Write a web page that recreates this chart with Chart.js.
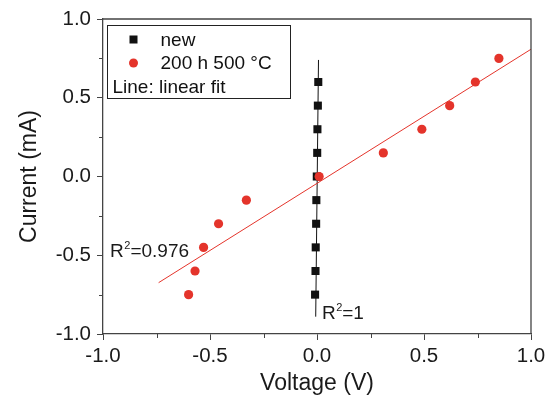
<!DOCTYPE html>
<html lang="en">
<head>
<meta charset="UTF-8">
<title>I-V curves</title>
<script src="https://cdn.jsdelivr.net/npm/chart.js"></script>
<style>
  html, body { margin: 0; padding: 0; background: #fff; }
  #wrap { width: 552px; height: 403px; }
</style>
</head>
<body>
<div id="wrap"><canvas id="ivChart"></canvas></div>
<script>
// sample "new": voltage (V) and current (mA)
const newVoltage = [-0.009, -0.007, -0.006, -0.004, -0.003, -0.001, 0.001, 0.002, 0.004, 0.006];
const newCurrent = [-0.75, -0.60, -0.45, -0.30, -0.15, 0.00, 0.15, 0.30, 0.45, 0.60];
// sample after 200 h at 500 °C
const agedVoltage = [-0.60, -0.57, -0.53, -0.46, -0.33, 0.01, 0.31, 0.49, 0.62, 0.74, 0.85];
const agedCurrent = [-0.75, -0.60, -0.45, -0.30, -0.15, 0.00, 0.15, 0.30, 0.45, 0.60, 0.75];
// linear fit end points
const newFitVoltage = [-0.006, 0.007];
const newFitCurrent = [-0.89, 0.74];
const agedFitVoltage = [-0.74, 1.0];
const agedFitCurrent = [-0.674, 0.808];
// axes
const xTicks = [-1.0, -0.5, 0.0, 0.5, 1.0];
const yTicks = [-1.0, -0.5, 0.0, 0.5, 1.0];
const xMinor = [-0.75, -0.25, 0.25, 0.75];
const yMinor = [-0.75, -0.25, 0.25, 0.75];
// fit quality labels
const fitLabels = [
    { v: -0.967, i: -0.511, r2: '0.976' },
    { v: 0.023, i: -0.905, r2: '1' }
];

const FONT = "'Liberation Sans', Arial, sans-serif";
const AXIS = '#444';
const RED = '#e4342b';
const BLACK = '#111';

const pts = (xs, ys) => xs.map((x, k) => ({ x: x, y: ys[k] }));

// draws R^2 text with a raised 2
function drawR2(ctx, x, y, value) {
    ctx.font = '19px ' + FONT;
    ctx.textBaseline = 'alphabetic';
    ctx.textAlign = 'left';
    ctx.fillText('R', x, y);
    let w = ctx.measureText('R').width;
    ctx.font = '11px ' + FONT;
    ctx.fillText('2', x + w + 0.5, y - 8);
    w += ctx.measureText('2').width + 0.5;
    ctx.font = '19px ' + FONT;
    ctx.fillText('=' + value, x + w, y);
}

const decorations = {
    id: 'decorations',
    afterDraw(chart) {
        const ctx = chart.ctx;
        const a = chart.chartArea;
        const xs = chart.scales.x, ys = chart.scales.y;
        ctx.save();
        // top and right frame
        ctx.strokeStyle = AXIS;
        ctx.lineWidth = 1.3;
        ctx.beginPath();
        ctx.moveTo(a.left, a.top);
        ctx.lineTo(a.right, a.top);
        ctx.lineTo(a.right, a.bottom);
        ctx.stroke();
        // minor ticks
        ctx.lineWidth = 1;
        ctx.beginPath();
        xMinor.forEach(v => {
            const px = Math.round(xs.getPixelForValue(v)) + 0.5;
            ctx.moveTo(px, a.bottom);
            ctx.lineTo(px, a.bottom + 4);
        });
        yMinor.forEach(v => {
            const py = Math.round(ys.getPixelForValue(v)) + 0.5;
            ctx.moveTo(a.left, py);
            ctx.lineTo(a.left - 4, py);
        });
        ctx.stroke();

        // R^2 labels
        ctx.fillStyle = '#1a1a1a';
        fitLabels.forEach(f => {
            drawR2(ctx, xs.getPixelForValue(f.v), ys.getPixelForValue(f.i), f.r2);
        });

        // legend box
        const lx = a.left + 4.5, ly = a.top + 6.5;
        ctx.strokeStyle = '#222';
        ctx.lineWidth = 1;
        ctx.strokeRect(lx, ly, 183, 73);
        const d0 = chart.data.datasets[0], d1 = chart.data.datasets[1];
        ctx.fillStyle = d0.backgroundColor;
        ctx.fillRect(lx + 22, ly + 10, 8, 8);
        ctx.fillStyle = d1.backgroundColor;
        ctx.beginPath();
        ctx.arc(lx + 26, ly + 37.5, 4.5, 0, Math.PI * 2);
        ctx.fill();
        ctx.fillStyle = '#111';
        ctx.font = '19px ' + FONT;
        ctx.textAlign = 'left';
        ctx.textBaseline = 'alphabetic';
        ctx.fillText(d0.label, lx + 53, ly + 20.5);
        ctx.fillText(d1.label, lx + 53, ly + 43.5);
        ctx.fillText('Line: linear fit', lx + 5, ly + 67);
        ctx.restore();
    }
};

const axisCommon = {
    type: 'linear',
    min: -1,
    max: 1,
    border: { display: true, color: AXIS, width: 1.3 },
    grid: { drawOnChartArea: false, drawTicks: true, tickLength: 6, color: AXIS, tickColor: AXIS, tickWidth: 1 },
};

new Chart(document.getElementById('ivChart'), {
    type: 'scatter',
    data: {
        datasets: [
            {
                label: 'new',
                data: pts(newVoltage, newCurrent),
                backgroundColor: BLACK,
                borderColor: BLACK,
                pointStyle: 'rect',
                pointRadius: 5.7,
                borderWidth: 0,
                order: 2
            },
            {
                label: '200 h 500 °C',
                data: pts(agedVoltage, agedCurrent),
                backgroundColor: RED,
                borderColor: RED,
                pointStyle: 'circle',
                pointRadius: 4.6,
                borderWidth: 0,
                order: 1
            },
            {
                label: 'fit new',
                data: pts(newFitVoltage, newFitCurrent),
                showLine: true,
                borderColor: BLACK,
                borderWidth: 1,
                pointRadius: 0,
                order: 4
            },
            {
                label: 'fit 200 h',
                data: pts(agedFitVoltage, agedFitCurrent),
                showLine: true,
                borderColor: RED,
                borderWidth: 1,
                pointRadius: 0,
                order: 3
            }
        ]
    },
    options: {
        responsive: true,
        maintainAspectRatio: false,
        animation: false,
        events: [],
        layout: { padding: { top: 19, right: 21, left: 0, bottom: 0 } },
        plugins: { legend: { display: false }, tooltip: { enabled: false } },
        scales: {
            x: Object.assign({}, axisCommon, {
                position: 'bottom',
                afterBuildTicks: s => { s.ticks = xTicks.map(v => ({ value: v })); },
                afterFit: s => { s.height = 69; },
                ticks: {
                    color: '#1a1a1a', padding: 4,
                    font: { family: FONT, size: 20.5 },
                    callback: v => v.toFixed(1)
                },
                title: {
                    display: true, text: 'Voltage (V)', color: '#1a1a1a',
                    font: { family: FONT, size: 23 },
                    padding: { top: 0, bottom: 6 }
                }
            }),
            y: Object.assign({}, axisCommon, {
                position: 'left',
                afterBuildTicks: s => { s.ticks = yTicks.map(v => ({ value: v })); },
                afterFit: s => { s.width = 103; },
                ticks: {
                    color: '#1a1a1a', padding: 6,
                    font: { family: FONT, size: 20.5 },
                    callback: v => v.toFixed(1)
                },
                title: {
                    display: true, text: 'Current (mA)', color: '#1a1a1a',
                    font: { family: FONT, size: 23 },
                    padding: { top: 16, bottom: 0 }
                }
            })
        }
    },
    plugins: [decorations]
});
</script>
</body>
</html>
